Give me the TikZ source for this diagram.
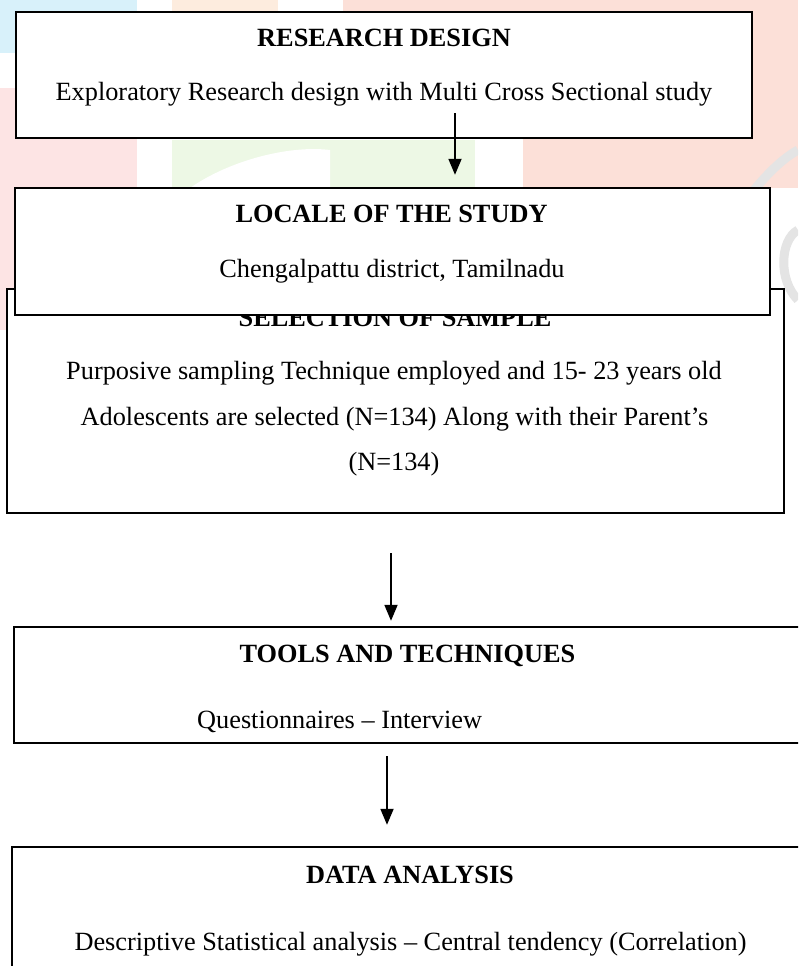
\documentclass[tikz,border=0pt]{standalone}
\usepackage{fontspec}
\setmainfont{Liberation Serif}
\usetikzlibrary{arrows.meta,calc}
\definecolor{wmcyan}{RGB}{216,241,250}
\definecolor{wmpink}{RGB}{253,228,228}
\definecolor{wmpeach}{RGB}{253,236,222}
\definecolor{wmgreen}{RGB}{237,248,229}
\definecolor{wmsalmon}{RGB}{252,224,216}
\definecolor{wmgray}{RGB}{228,228,228}
\begin{document}
\begin{tikzpicture}[x=1pt,y=-1pt,
  box/.style={draw=black, line width=2.4pt, fill=white, rectangle, inner sep=0pt},
  ttl/.style={font=\fontsize{26.3pt}{30pt}\selectfont\bfseries, anchor=base, inner sep=0pt},
  txt/.style={font=\fontsize{26.3pt}{30pt}\selectfont, anchor=base, inner sep=0pt},
  arr/.style={line width=1.8pt, -{Triangle[length=16pt,width=13pt]}}]
\useasboundingbox (0,0) rectangle (798,966);
\clip (0,0) rectangle (798,966);
\fill[white] (0,0) rectangle (798,966);
% faint watermark
\fill[wmcyan] (0,0) rectangle (137,53);
\fill[wmpink] (0,88) rectangle (137,330);
\fill[wmpeach] (172,0) rectangle (278,30);
\fill[wmgreen] (172,140) rectangle (475,188);
\fill[white] (190,188) .. controls (230,160) and (290,145) .. (330,150) -- (330,188) -- cycle;
\fill[wmsalmon] (343,0) rectangle (523,30);
\fill[wmsalmon] (523,0) rectangle (798,188);
\draw[wmgray, line width=9pt] (735,215) .. controls (760,180) and (780,160) .. (798,150);
\draw[wmgray, line width=9pt] (798,230) .. controls (780,240) and (778,280) .. (798,300);

% selection of sample (behind locale box)
\node[box, minimum width=777pt, minimum height=224pt] (b3) at (395.5,401) {};
\node[ttl] (t3) at (395,326) {SELECTION OF SAMPLE};
\node[txt] (l31) at (394,379) {Purposive sampling Technique employed and 15- 23 years old};
\node[txt] (l32) at (394.5,425) {Adolescents are selected (N=134) Along with their Parent’s};
\node[txt] (l33) at (394,470) {(N=134)};

% locale of the study
\node[box, minimum width=755pt, minimum height=127pt] (b2) at (392.5,251.5) {};
\node[ttl] (t2) at (391.5,222) {LOCALE OF THE STUDY};
\node[txt] (s2) at (392,277) {Chengalpattu district, Tamilnadu};

% research design
\node[box, minimum width=736pt, minimum height=126pt] (b1) at (384,75) {};
\node[ttl] (t1) at (384,47) {RESEARCH DESIGN};
\node[txt] (s1) at (384,100) {Exploratory Research design with Multi Cross Sectional study};

% tools and techniques
\node[box, minimum width=796pt, minimum height=116pt] (b4) at (412,685) {};
\node[ttl] (t4) at (407.5,662) {TOOLS AND TECHNIQUES};
\node[txt, anchor=base west] (s4) at (197,728) {Questionnaires – Interview};

% data analysis
\node[box, minimum width=798pt, minimum height=143pt] (b5) at (411,918.5) {};
\node[ttl] (t5) at (410,883) {DATA ANALYSIS};
\node[txt] (s5) at (410.5,950) {Descriptive Statistical analysis – Central tendency (Correlation)};

% connectors
\coordinate (a1s) at (455,113);
\draw[arr, shorten >=12pt] (a1s) -- (a1s |- b2.north);
\coordinate (a2) at (391,0);
\draw[arr, shorten <=39pt, shorten >=5pt] (b3.south -| a2) -- (b4.north -| a2);
\coordinate (a3) at (387,0);
\draw[arr, shorten <=12pt, shorten >=21pt] (b4.south -| a3) -- (b5.north -| a3);
\end{tikzpicture}
\end{document}
